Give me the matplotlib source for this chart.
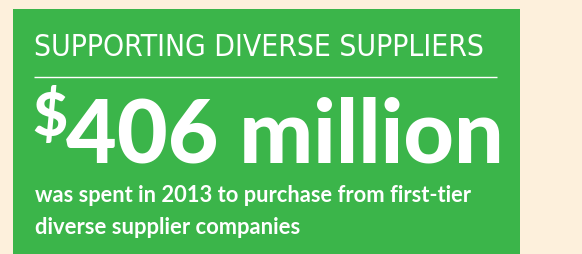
import matplotlib
matplotlib.use("Agg")
import matplotlib.pyplot as plt
from matplotlib.patches import Rectangle

# ---- content ----
title_text = "SUPPORTING DIVERSE SUPPLIERS"
currency_symbol = "$"
amount_text = "406 million"
caption_lines = ["was spent in 2013 to purchase from first-tier",
                 "diverse supplier companies"]

BG = "#FDF0DC"
GREEN = "#3BB54A"
W, H = 582, 255

fig = plt.figure(figsize=(W / 100, H / 100), dpi=100)
fig.patch.set_facecolor(BG)
ax = fig.add_axes([0, 0, 1, 1])
ax.set_xlim(0, W)
ax.set_ylim(H, 0)
ax.axis("off")

ax.add_patch(Rectangle((13, 10), 507, 250, facecolor=GREEN, edgecolor="none"))

renderer = fig.canvas.get_renderer()


def fit_text(s, x0, x1, y, family, weight, size_guess=20, stretch="normal"):
    t = ax.text(x0, y, s, color="white", ha="left", va="baseline",
                fontsize=size_guess, family=family, fontweight=weight,
                fontstretch=stretch)
    bb = t.get_window_extent(renderer=renderer)
    target = x1 - x0
    t.set_fontsize(size_guess * target / bb.width)
    return t


fit_text(title_text, 34, 486, 56, "DejaVu Sans", "normal", stretch="condensed")
ax.plot([34, 497], [78, 78], color="white", lw=1.0, solid_capstyle="butt")

fit_text(currency_symbol, 32, 67, 136, "Lato", "black", 30)
fit_text(amount_text, 66, 504, 163, "Lato", "black", 60)

fit_text(caption_lines[0], 35, 473, 202, "Lato", "bold", 14)
fit_text(caption_lines[1], 35, 301, 234, "Lato", "bold", 14)

fig.savefig("out.png", dpi=100, facecolor=BG)
